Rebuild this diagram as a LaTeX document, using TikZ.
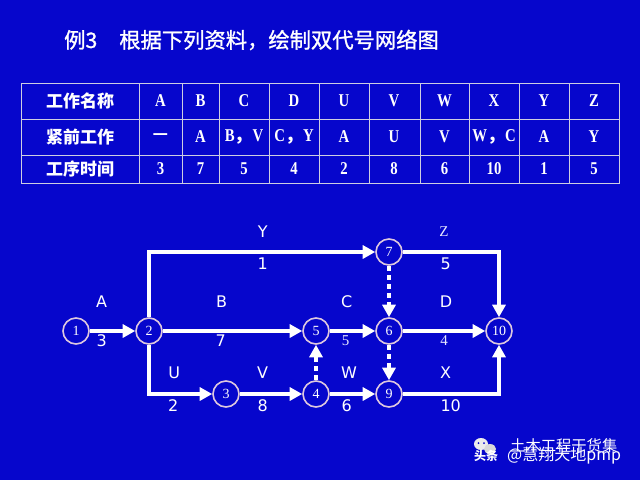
\documentclass[tikz,border=0pt]{standalone}
\usepackage{fontspec}
\usetikzlibrary{arrows.meta}
\setmainfont{Liberation Serif}
\newfontfamily\cjk{Noto Sans CJK SC}
\newfontfamily\cjkt[FakeBold=1.2]{Noto Sans CJK SC}
\newfontfamily\lbl{DejaVu Sans}
\newfontfamily\tms{Liberation Serif}
\newfontfamily\tmsn[FakeStretch=0.82]{Liberation Serif}
\definecolor{bg}{RGB}{6,6,204}
\definecolor{grid}{RGB}{205,205,225}
\definecolor{ring}{RGB}{222,200,222}
\definecolor{soft}{RGB}{232,232,255}
\tikzset{
  arr/.style={draw=white,line width=4pt,-{Triangle[length=12.5pt,width=13pt]}},
  dsh/.style={draw=white,line width=4pt,dash pattern=on 5pt off 4pt,-{Triangle[length=12.5pt,width=13pt]}},
  ev/.style={circle,draw=ring,line width=1.6pt,fill=bg,minimum size=26pt,inner sep=0pt,text=white,font=\tms\fontsize{14}{14}\selectfont},
  lab/.style={text=white,inner sep=0pt,font=\lbl\fontsize{16}{16}\selectfont},
  slab/.style={text=soft,inner sep=0pt,font=\tms\fontsize{15}{15}\selectfont},
  cell/.style={text=white,inner sep=0pt,font=\tmsn\bfseries\fontsize{18}{18}\selectfont},
  ccell/.style={text=white,inner sep=0pt,font=\cjk\bfseries\fontsize{17}{17}\selectfont},
}
\begin{document}
\begin{tikzpicture}[x=1pt,y=-1pt]
\useasboundingbox (0,0) rectangle (640,480);
\fill[bg] (0,0) rectangle (640,480);
% title
\node[anchor=west,text=white,inner sep=0pt,font=\cjkt\fontsize{21.3}{21.3}\selectfont] (title) at (64,40) {例3\hspace{22pt}根据下列资料，绘制双代号网络图};
% table grid
\draw[grid,line width=1pt] (21,83) rectangle (619,183);
\foreach \y in {119,155} \draw[grid,line width=1pt] (21,\y) -- (619,\y);
\foreach \x in {139,182,219,269,319,369,420,469,519,569} \draw[grid,line width=1pt] (\x,83) -- (\x,183);
% table row headers
\node[ccell] (h1) at (80,101) {工作名称};
\node[ccell] (h2) at (80,137) {紧前工作};
\node[ccell] (h3) at (80,169) {工序时间};
% names
\foreach \x/\t [count=\i] in {160.5/A,200.5/B,244/C,294/D,344/U,394/V,444.5/W,494/X,544/Y,594/Z}
  \node[cell] (nm\i) at (\x,101) {\t};
% predecessors
\node[ccell] (p1) at (160.5,137) {—};
\node[cell] (p2) at (200.5,137) {A};
\node[cell] (p3) at (244,137) {B{\cjk\bfseries ，}V};
\node[cell] (p4) at (294,137) {C{\cjk\bfseries ，}Y};
\node[cell] (p5) at (344,137) {A};
\node[cell] (p6) at (394,137) {U};
\node[cell] (p7) at (444.5,137) {V};
\node[cell] (p8) at (494,137) {W{\cjk\bfseries ，}C};
\node[cell] (p9) at (544,137) {A};
\node[cell] (p10) at (594,137) {Y};
% durations
\foreach \x/\t [count=\i] in {160.5/3,200.5/7,244/5,294/4,344/2,394/8,444.5/6,494/10,544/1,594/5}
  \node[cell] (du\i) at (\x,169) {\t};
% network nodes
\node[ev] (n1) at (76,331) {1};
\node[ev] (n2) at (149,331) {2};
\node[ev] (n5) at (316,331) {5};
\node[ev] (n6) at (389,331) {6};
\node[ev] (n10) at (499,331) {10};
\node[ev] (n7) at (389,252) {7};
\node[ev] (n3) at (226,394) {3};
\node[ev] (n4) at (316,394) {4};
\node[ev] (n9) at (389,394) {9};
% connectors
\draw[arr] (n1) -- (n2);
\draw[arr] (n2) -- (n5);
\draw[arr] (n2) |- (n7);
\draw[arr] (n2) |- (n3);
\draw[arr] (n3) -- (n4);
\draw[arr] (n5) -- (n6);
\draw[arr] (n6) -- (n10);
\draw[arr] (n4) -- (n9);
\draw[arr] (n7) -| (n10);
\draw[arr] (n9) -| (n10);
\draw[dsh] (n7) -- (n6);
\draw[dsh] (n6) -- (n9);
\draw[dsh] (n4) -- (n5);
% labels
\node[lab] (lA) at (101.7,302) {A};
\node[lab] (dA) at (101.7,341) {3};
\node[lab] (lB) at (221.7,302) {B};
\node[lab] (dB) at (220.7,341) {7};
\node[lab] (lY) at (262.7,232) {Y};
\node[lab] (dY) at (262.7,263.5) {1};
\node[lab] (lU) at (174.3,372.5) {U};
\node[lab] (dU) at (173.3,406) {2};
\node[lab] (lV) at (262.7,372.5) {V};
\node[lab] (dV) at (262.7,406) {8};
\node[slab] (lZ) at (444,232) {Z};
\node[lab] (dZ) at (445.7,263.5) {5};
\node[lab] (lC) at (346.7,302) {C};
\node[slab] (dC) at (345.7,341) {5};
\node[lab] (lD) at (446,302) {D};
\node[slab] (dD) at (444,341) {4};
\node[lab] (lW) at (349,372.5) {W};
\node[lab] (dW) at (346.7,406) {6};
\node[lab] (lX) at (445.7,372.5) {X};
\node[lab] (dX) at (450.7,406) {10};
% watermark
\fill[white!85!gray] (481,444) ellipse (7pt and 6pt);
\fill[white!70!gray] (490,449) ellipse (6pt and 5pt);
\fill[bg] (478.5,443) circle (1pt) (484,443) circle (1pt);
\node[anchor=west,text=white,inner sep=0pt,font=\cjk\fontsize{15.3}{15.3}\selectfont] (wm1) at (510,446) {土木工程干货集};
\node[anchor=west,text=white,inner sep=0pt,font=\cjk\bfseries\fontsize{12}{12}\selectfont] (wm2) at (474,456) {头条};
\node[anchor=west,text=white,inner sep=0pt,font=\cjk\fontsize{16}{16}\selectfont] (wm3) at (507,456) {@慧翔天地pmp};
\end{tikzpicture}
\end{document}
